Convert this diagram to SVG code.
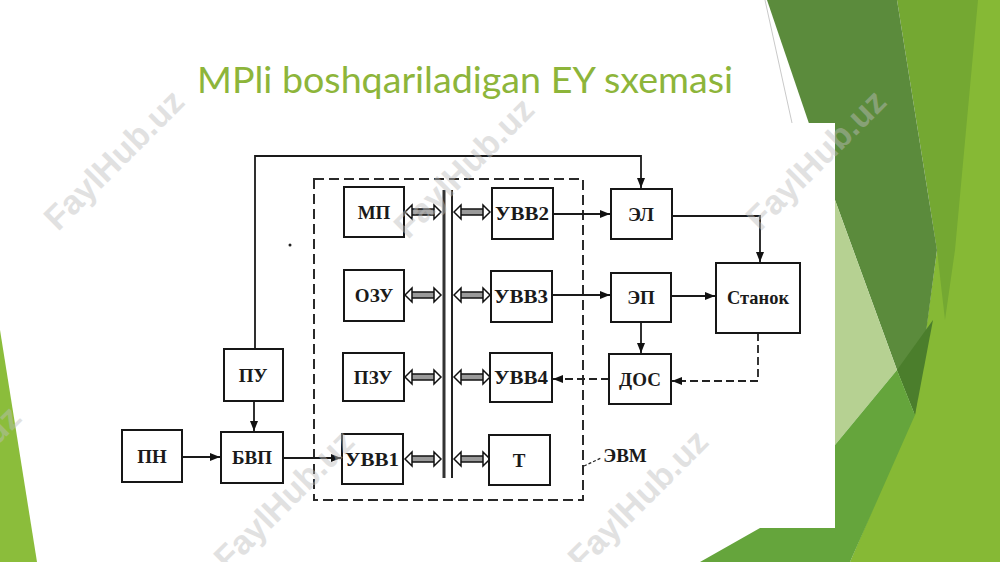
<svg xmlns="http://www.w3.org/2000/svg" width="1000" height="562" viewBox="0 0 1000 562">
<style>
.box{fill:#fff;stroke:#161616;stroke-width:2}
.lbl{font-family:"Liberation Serif",serif;font-weight:bold;font-size:19px;fill:#1a1a1a;text-anchor:middle}
.ln{fill:none;stroke:#1a1a1a;stroke-width:1.8}
.dash{fill:none;stroke:#222;stroke-width:1.8;stroke-dasharray:8,4}
.wm{font-family:"Liberation Sans",sans-serif;font-weight:bold;font-size:34px;fill:#bdbdbd;opacity:0.45}
</style>
<defs>
<marker id="ah" viewBox="0 0 10 8" refX="10" refY="4" markerWidth="10" markerHeight="8" markerUnits="userSpaceOnUse" orient="auto">
<path d="M0,0 L10,4 L0,8 z" fill="#111"/>
</marker>
<g id="dbl">
<rect x="6" y="-3" width="24" height="6" fill="#9a9a9a"/>
<line x1="6" y1="-3" x2="30" y2="-3" stroke="#111" stroke-width="1.5"/>
<line x1="6" y1="3" x2="30" y2="3" stroke="#111" stroke-width="1.5"/>
<path d="M0,0 L7,-7 L7,7 z" fill="#fff" stroke="#111" stroke-width="1.5"/>
<path d="M36,0 L29,-7 L29,7 z" fill="#fff" stroke="#111" stroke-width="1.5"/>
</g>
</defs>
<rect width="1000" height="562" fill="#fff"/>
<g id="decor">
<polygon points="900,0 1000,0 1000,562 850,562 915,410 937,250" fill="#86b935"/>
<polygon points="897,0 978,0 955,250 945,320 937,250" fill="#74a832"/>
<polygon points="767,0 897,0 937,250 915,415 897,370 835,200" fill="#5b8b3c"/>
<polygon points="897,370 933,320 915,415" fill="#4b7e2c"/>
<polygon points="835,200 897,370 835,445" fill="#b6d192"/>
<polygon points="700,562 760,528 835,528 835,445 897,370 915,415 850,562" fill="#65a53c"/>
<polygon points="0,330 37,562 0,562" fill="#8bbd3b"/>
<line x1="765" y1="0" x2="792" y2="123" stroke="#bbb" stroke-width="0.8"/>
<rect x="100" y="123" width="735" height="405" fill="#fff"/>
</g>
<text x="197" y="93" font-family="Lato, 'Open Sans', sans-serif" font-size="36" fill="#8db53a" textLength="536" lengthAdjust="spacingAndGlyphs">MPli boshqariladigan EY sxemasi</text>
<g id="connectors">
<rect x="314" y="179" width="269" height="321" fill="none" stroke="#2a2a2a" stroke-width="2" stroke-dasharray="10,5"/>
<line x1="444" y1="190" x2="444" y2="478" stroke="#333" stroke-width="3"/>
<line x1="452" y1="190" x2="452" y2="478" stroke="#222" stroke-width="2"/>
<use href="#dbl" x="405" y="212"/>
<use href="#dbl" x="405" y="295"/>
<use href="#dbl" x="405" y="377"/>
<use href="#dbl" x="405" y="459"/>
<use href="#dbl" x="454" y="212"/>
<use href="#dbl" x="454" y="295"/>
<use href="#dbl" x="454" y="377"/>
<use href="#dbl" x="454" y="459"/>
<polyline class="ln" points="255,349 255,156 641,156 641,188" marker-end="url(#ah)"/>
<line class="ln" x1="254" y1="401" x2="254" y2="431" marker-end="url(#ah)"/>
<line class="ln" x1="182" y1="457" x2="220" y2="457" marker-end="url(#ah)"/>
<line class="ln" x1="283" y1="458" x2="341" y2="458" marker-end="url(#ah)"/>
<line class="ln" x1="553" y1="214" x2="610" y2="214" marker-end="url(#ah)"/>
<line class="ln" x1="552" y1="295" x2="610" y2="295" marker-end="url(#ah)"/>
<line class="ln" x1="671" y1="296" x2="715" y2="296" marker-end="url(#ah)"/>
<polyline class="ln" points="672,216 760,216 760,262" marker-end="url(#ah)"/>
<line class="ln" x1="641" y1="322" x2="641" y2="353" marker-end="url(#ah)"/>
<polyline class="dash" points="758,333 758,381 672,381" marker-end="url(#ah)"/>
<line class="dash" x1="609" y1="379" x2="553" y2="379" marker-end="url(#ah)"/>
<line x1="584" y1="466" x2="601" y2="458" stroke="#222" stroke-width="1.2" stroke-dasharray="3,2"/>
<circle cx="290" cy="245" r="1.5" fill="#222"/>
</g>
<g id="n-mp"><rect class="box" x="344" y="187" width="60" height="50"/><text class="lbl" x="374" y="219">МП</text></g>
<g id="n-ozu"><rect class="box" x="344" y="270" width="60" height="51"/><text class="lbl" x="374" y="302">ОЗУ</text></g>
<g id="n-pzu"><rect class="box" x="343" y="353" width="61" height="48"/><text class="lbl" x="373" y="384">ПЗУ</text></g>
<g id="n-uvv1"><rect class="box" x="342" y="434" width="61" height="50"/><text class="lbl" x="372" y="466" textLength="54" lengthAdjust="spacingAndGlyphs">УВВ1</text></g>
<g id="n-uvv2"><rect class="box" x="492" y="188" width="61" height="51"/><text class="lbl" x="522" y="220" textLength="54" lengthAdjust="spacingAndGlyphs">УВВ2</text></g>
<g id="n-uvv3"><rect class="box" x="491" y="271" width="61" height="51"/><text class="lbl" x="521" y="303" textLength="54" lengthAdjust="spacingAndGlyphs">УВВ3</text></g>
<g id="n-uvv4"><rect class="box" x="490" y="353" width="62" height="49"/><text class="lbl" x="521" y="384" textLength="54" lengthAdjust="spacingAndGlyphs">УВВ4</text></g>
<g id="n-t"><rect class="box" x="489" y="435" width="61" height="50"/><text class="lbl" x="519" y="467">Т</text></g>
<g id="n-el"><rect class="box" x="611" y="189" width="61" height="50"/><text class="lbl" x="641" y="221">ЭЛ</text></g>
<g id="n-ep"><rect class="box" x="611" y="273" width="60" height="49"/><text class="lbl" x="641" y="304">ЭП</text></g>
<g id="n-dos"><rect class="box" x="609" y="354" width="62" height="50"/><text class="lbl" x="640" y="386">ДОС</text></g>
<g id="n-stanok"><rect class="box" x="716" y="263" width="84" height="70"/><text class="lbl" x="758" y="304" textLength="62" lengthAdjust="spacingAndGlyphs">Станок</text></g>
<g id="n-pu"><rect class="box" x="224" y="349" width="59" height="52"/><text class="lbl" x="253" y="382">ПУ</text></g>
<g id="n-pn"><rect class="box" x="122" y="430" width="60" height="52"/><text class="lbl" x="152" y="463">ПН</text></g>
<g id="n-bvp"><rect class="box" x="221" y="432" width="62" height="51"/><text class="lbl" x="252" y="464">БВП</text></g>
<text class="lbl" x="625" y="462" font-size="18">ЭВМ</text>
<g id="watermarks">
<text class="wm" transform="translate(58,232) rotate(-45)">FaylHub.uz</text>
<text class="wm" transform="translate(408,240) rotate(-45)">FaylHub.uz</text>
<text class="wm" transform="translate(760,232) rotate(-45)">FaylHub.uz</text>
<text class="wm" transform="translate(-105,548) rotate(-45)">FaylHub.uz</text>
<text class="wm" transform="translate(228,572) rotate(-45)">FaylHub.uz</text>
<text class="wm" transform="translate(582,572) rotate(-45)">FaylHub.uz</text>
</g>
</svg>
